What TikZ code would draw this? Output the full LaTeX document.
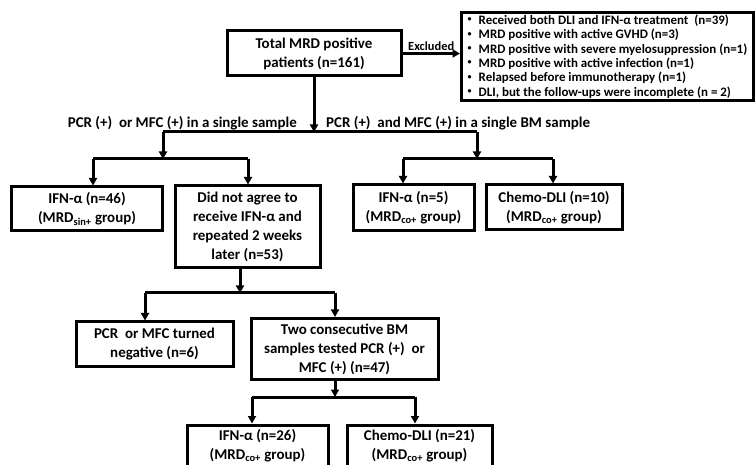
\documentclass[tikz,border=0pt]{standalone}
\usepackage{fontspec}
\setmainfont{Carlito}
\usetikzlibrary{arrows.meta,positioning,calc}

\newcommand{\bul}{\raisebox{2.5bp}{\fontsize{8}{8}\selectfont\textbullet}\hspace{7bp}}

\begin{document}
\begin{tikzpicture}[x=1bp, y=-1bp, font=\fontsize{15}{19}\selectfont\bfseries,
  box/.style={rectangle, draw, line width=3bp, align=center, inner sep=2bp, fill=white},
  arr/.style={-{Triangle[length=7.5bp,width=8bp]}, line width=3bp},
  ln/.style={line width=3bp},
  lbl/.style={inner sep=1bp}
]
  \useasboundingbox (0,0) rectangle (755,465);
  \clip (0,0) rectangle (755,465);

  % Top: all patients and exclusions
  \node[box, minimum width=174bp, minimum height=45bp] (total) at (314,53.5) {Total MRD positive\\patients (n=161)};
  \node[box, anchor=north west, minimum width=292bp, minimum height=87bp, align=left, inner xsep=6bp,
    font=\fontsize{13}{14.5}\selectfont\bfseries] (excl) at (460,11)
    {\bul Received both DLI and IFN-α treatment\ \ (n=39)\\
     \bul MRD positive with active GVHD (n=3)\\
     \bul MRD positive with severe myelosuppression (n=1)\\
     \bul MRD positive with active infection (n=1)\\
     \bul Relapsed before immunotherapy (n=1)\\
     \bul DLI, but the follow-ups were incomplete (n = 2)};
  \draw[arr] (total.east) -- (total.east -| excl.west) node[midway, above, lbl, font=\fontsize{12.5}{14}\selectfont\bfseries] {Excluded};

  % First split
  \coordinate (split) at (314,132);
  \coordinate (lsplit) at (163,132);
  \coordinate (rsplit) at (477,132);
  \coordinate (lbr) at (163,159);
  \coordinate (rbr) at (477,159);
  \draw[arr] (total.south) -- (split);
  \draw[ln] (lsplit) -- (rsplit);
  \draw[arr] (lsplit) -- (lbr);
  \draw[arr] (rsplit) -- (rbr);
  \node[lbl, anchor=east] (single) at (298,123) {PCR (+)\ \ or MFC (+) in a single sample};
  \node[lbl, anchor=west] (both) at (325,123) {PCR (+)\ \ and MFC (+) in a single BM sample};

  % Second row
  \node[box, minimum width=150bp, minimum height=44bp] (ifn46) at (87,209) {IFN-α (n=46)\\(MRD\textsubscript{sin+} group)};
  \node[box, minimum width=145bp, minimum height=82bp] (agree) at (247.5,227) {Did not agree to\\receive IFN-α and\\repeated 2 weeks\\later (n=53)};
  \node[box, minimum width=121bp, minimum height=46bp] (ifn5) at (413.5,208) {IFN-α (n=5)\\(MRD\textsubscript{co+} group)};
  \node[box, minimum width=136bp, minimum height=45bp] (chemo10) at (554,207.5) {Chemo-DLI (n=10)\\(MRD\textsubscript{co+} group)};
  \coordinate (a46) at (93,159);
  \coordinate (aagr) at (248,159);
  \coordinate (a5) at (403,159);
  \coordinate (a10) at (553,159);
  \draw[ln] (a46) -- (aagr);
  \draw[ln] (a5) -- (a10);
  \draw[arr] (a46) -- (a46 |- ifn46.north);
  \draw[arr] (aagr) -- (aagr |- agree.north);
  \draw[arr] (a5) -- (a5 |- ifn5.north);
  \draw[arr] (a10) -- (a10 |- chemo10.north);

  % Third row
  \node[box, minimum width=157bp, minimum height=44bp] (neg6) at (154.5,344) {PCR\ \ or MFC turned\\negative (n=6)};
  \node[box, minimum width=187bp, minimum height=61bp] (two47) at (344.5,349) {Two consecutive BM\\samples tested PCR (+)\ \ or\\MFC (+) (n=47)};
  \coordinate (b2) at (240,293);
  \coordinate (a6) at (145,293);
  \coordinate (a47) at (335,293);
  \draw[arr] (agree.south -| b2) -- (b2);
  \draw[ln] (a6) -- (a47);
  \draw[arr] (a6) -- (a6 |- neg6.north);
  \draw[arr] (a47) -- (a47 |- two47.north);

  % Fourth row
  \node[box, minimum width=141bp, minimum height=42bp] (ifn26) at (257.5,446) {IFN-α (n=26)\\(MRD\textsubscript{co+} group)};
  \node[box, minimum width=145bp, minimum height=42bp] (chemo21) at (419.5,446) {Chemo-DLI (n=21)\\(MRD\textsubscript{co+} group)};
  \coordinate (b3) at (335,397);
  \coordinate (a26) at (252,397);
  \coordinate (a21) at (415,397);
  \draw[arr] (two47.south -| b3) -- (b3);
  \draw[ln] (a26) -- (a21);
  \draw[arr] (a26) -- (a26 |- ifn26.north);
  \draw[arr] (a21) -- (a21 |- chemo21.north);
\end{tikzpicture}
\end{document}
